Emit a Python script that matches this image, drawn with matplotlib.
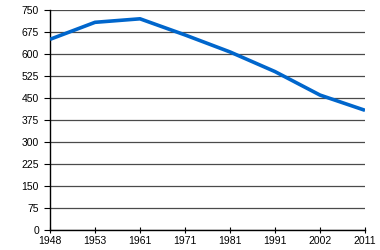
import matplotlib
matplotlib.use("Agg")
import matplotlib.pyplot as plt

plt.rcParams['font.family'] = ['Liberation Sans', 'DejaVu Sans']

# Data
years = ["1948", "1953", "1961", "1971", "1981", "1991", "2002", "2011"]
values = [650, 708, 720, 665, 607, 540, 460, 408]
y_ticks = [0, 75, 150, 225, 300, 375, 450, 525, 600, 675, 750]

fig = plt.figure(figsize=(3.8, 2.5), dpi=100)
ax = fig.add_axes([50 / 380, 20 / 250, 315 / 380, 220 / 250])

x = range(len(years))
ax.plot(x, values, color="#0066cc", linewidth=2.6, solid_capstyle="butt", zorder=3)

ax.set_xlim(0, len(years) - 1)
ax.set_ylim(0, 750)
ax.set_xticks(list(x))
ax.set_xticklabels(years)
ax.set_yticks(y_ticks)

ax.grid(axis="y", color="#4a4a4a", linewidth=0.9)
ax.set_axisbelow(True)
for s in ["top", "right"]:
    ax.spines[s].set_visible(False)
for s in ["left", "bottom"]:
    ax.spines[s].set_color("black")
    ax.spines[s].set_linewidth(1.0)

ax.tick_params(axis="x", direction="inout", length=5, labelsize=7.5, pad=1.5, colors="black")
ax.tick_params(axis="y", direction="out", length=4, labelsize=7.5, pad=4, colors="black")

fig.savefig("out.png", dpi=100)
